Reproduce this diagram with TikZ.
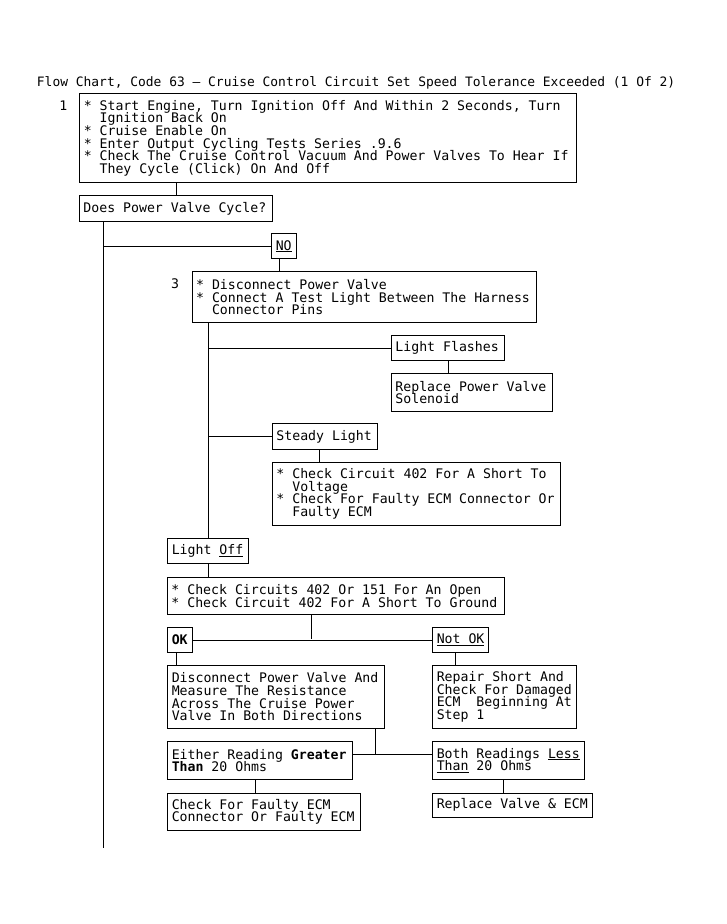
\documentclass[tikz,border=0pt]{standalone}
\usepackage{fontspec}
\newfontfamily\chartfont{DejaVu Sans Mono}[WordSpace={1,0,0}]
\newcommand{\boxfont}{\chartfont\fontsize{13.2}{12.65}\selectfont\lineskiplimit=-5pt}
\newcommand{\bul}{*~}
\newcommand{\ind}{\phantom{*~}}

\begin{document}
\begin{tikzpicture}[x=1pt, y=-1pt, line width=0.9pt,
  every node/.style={font=\boxfont},
  fixspace/.style={execute at begin node={\spaceskip=0.60205em\relax\xspaceskip=\spaceskip}},
  stepbox/.style={draw, anchor=north west, align=left, inner xsep=4pt, inner ysep=0pt, fixspace}]

% Page frame
\fill[white] (0,0) rectangle (727,924);

% Title and step numbers
\node[anchor=base west, inner sep=0pt, font={\boxfont\fontsize{12.93}{12.65}\selectfont}, fixspace] (title) at (36.5,86) {Flow Chart, Code 63 – Cruise Control Circuit Set Speed Tolerance Exceeded (1 Of 2)};
\node[inner sep=0pt] (n1) at (63.3,106) {1};
\node[inner sep=0pt] (n3) at (175,283.5) {3};

% Step 1
\node[stepbox, text width=489pt, minimum height=89pt] (s1) at (79.3,93.3) {\bul Start Engine, Turn Ignition Off And Within 2 Seconds, Turn\\\ind Ignition Back On\\\bul Cruise Enable On\\\bul Enter Output Cycling Tests Series .9.6\\\bul Check The Cruise Control Vacuum And Power Valves To Hear If\\\ind They Cycle (Click) On And Off};
\node[stepbox, text width=185pt, minimum height=26pt] (q1) at (79,195) {Does Power Valve Cycle?};
\node[stepbox, text width=17pt, minimum height=25pt] (no) at (271.3,233.3) {\underline{NO}};

% Step 3
\node[stepbox, text width=336pt, minimum height=51.3pt] (s3) at (191.7,271) {\bul Disconnect Power Valve\\\bul Connect A Test Light Between The Harness\\\ind Connector Pins};
\node[stepbox, text width=105pt, minimum height=25pt] (flash) at (391,335) {Light Flashes};
\node[stepbox, text width=153pt, minimum height=38pt] (rpv) at (391,373) {Replace Power Valve\\Solenoid};
\node[stepbox, text width=97pt, minimum height=26pt] (steady) at (272,423) {Steady Light};
\node[stepbox, text width=280pt, minimum height=63pt] (short) at (272,462) {\bul Check Circuit 402 For A Short To\\\ind Voltage\\\bul Check For Faulty ECM Connector Or\\\ind Faulty ECM};
\node[stepbox, text width=72.4pt, minimum height=25pt] (off) at (167.3,538.3) {Light \underline{Off}};
\node[stepbox, text width=329pt, minimum height=37.3pt] (open) at (167,576.7) {\bul Check Circuits 402 Or 151 For An Open\\\bul Check Circuit 402 For A Short To Ground};
\node[stepbox, text width=17pt, minimum height=25pt] (ok) at (167.3,627) {\textbf{OK}};
\node[stepbox, text width=48pt, minimum height=25pt] (notok) at (432.3,627) {\underline{Not OK}};
\node[stepbox, text width=209pt, minimum height=63pt] (meas) at (167.3,665) {Disconnect Power Valve And\\Measure The Resistance\\Across The Cruise Power\\Valve In Both Directions};
\node[stepbox, text width=136pt, minimum height=63pt] (repair) at (432.3,665) {Repair Short And\\Check For Damaged\\ECM~ Beginning At\\Step 1};
\node[stepbox, text width=177pt, minimum height=38pt] (greater) at (167.3,741) {Either Reading \textbf{Greater}\\\textbf{Than} 20 Ohms};
\node[stepbox, text width=144pt, minimum height=38pt] (less) at (432.3,741) {Both Readings \underline{Less}\\\underline{Than} 20 Ohms};
\node[stepbox, text width=185pt, minimum height=37.3pt] (faulty) at (167.3,792.7) {Check For Faulty ECM\\Connector Or Faulty ECM};
\node[stepbox, text width=152pt, minimum height=24pt] (rve) at (432.3,792.7) {Replace Valve \& ECM};

% Junction points
\coordinate (trunk) at (103.3,848.3);
\coordinate (okjoin) at (311.7,639.4);
\coordinate (rdjoin) at (375.7,754);

% Draw connectors
\draw (q1.north) -- (q1.north |- s1.south);
\draw (trunk |- q1.south) -- (trunk);
\draw (no.west) -- (no.west -| trunk);
\draw ([xshift=-4.7pt]no.south) -- ([xshift=-4.7pt]no.south |- s3.north);
\draw (off.north) -- (off.north |- s3.south);
\draw (flash.west) -- (flash.west -| off.north);
\draw (flash.south) -- (flash.south |- rpv.north);
\draw (steady.west) -- (steady.west -| off.north);
\draw ([xshift=-5.2pt]steady.south) -- ([xshift=-5.2pt]steady.south |- short.north);
\draw (off.south) -- (off.south |- open.north);
\draw (okjoin |- open.south) -- (okjoin);
\draw (ok.east) -- (notok.west);
\draw ([xshift=-4pt]ok.south) -- ([xshift=-4pt]ok.south |- meas.north);
\draw ([xshift=-5.8pt]notok.south) -- ([xshift=-5.8pt]notok.south |- repair.north);
\draw (rdjoin |- meas.south) -- (rdjoin);
\draw (rdjoin -| greater.east) -- (rdjoin -| less.west);
\draw ([xshift=-4.5pt]greater.south) -- ([xshift=-4.5pt]greater.south |- faulty.north);
\draw ([xshift=-5pt]less.south) -- ([xshift=-5pt]less.south |- rve.north);

\end{tikzpicture}
\end{document}
